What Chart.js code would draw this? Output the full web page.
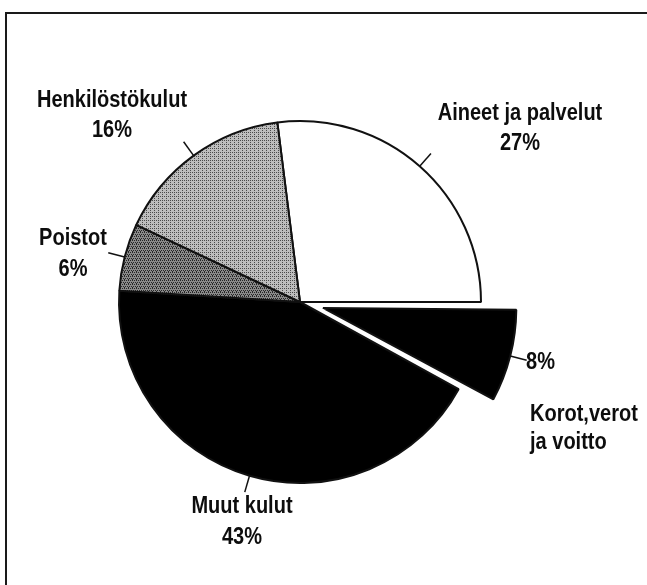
<!DOCTYPE html>
<html>
<head>
<meta charset="utf-8">
<script src="https://cdn.jsdelivr.net/npm/chart.js@4/dist/chart.umd.min.js"></script>
<style>
  html, body { margin: 0; padding: 0; background: #fff; }
  canvas { display: block; }
</style>
</head>
<body>
<canvas id="c" width="647" height="585"></canvas>
<script>
// ---- data ----
const categories = ["Aineet ja palvelut", "Korot,verot ja voitto", "Muut kulut", "Poistot", "Henkilöstökulut"];
const shares = [27, 8, 43, 6, 16];
const labelLines = [
  ["Aineet ja palvelut", "27%"],
  ["8%"],
  ["Muut kulut", "43%"],
  ["Poistot", "6%"],
  ["Henkilöstökulut", "16%"]
];
const extraLabel = ["Korot,verot", "ja voitto"];

// ---- styles ----
function makePattern(base, dot, dots) {
  const p = document.createElement('canvas');
  p.width = 4; p.height = 4;
  const g = p.getContext('2d');
  g.fillStyle = base; g.fillRect(0, 0, 4, 4);
  g.fillStyle = dot;
  dots.forEach(d => g.fillRect(d[0], d[1], 1, 1));
  return g.createPattern(p, 'repeat');
}
const lightPattern = makePattern('#bdbdbd', '#4a4a4a', [[0,0],[2,2],[2,0]]);
const darkPattern = makePattern('#8a8a8a', '#262626', [[0,0],[2,0],[1,2],[3,2],[0,3]]);
const fills = ['#ffffff', '#000000', '#000000', darkPattern, lightPattern];
const offsets = [0, 95, 0, 0, 0];

// text layout (center x / left x, baselines)
const textLayout = [
  { x: 520, align: 'center', ys: [120, 150] },
  { x: 526, align: 'left', ys: [369] },
  { x: 242, align: 'center', ys: [513, 544] },
  { x: 73, align: 'center', ys: [245, 276] },
  { x: 112, align: 'center', ys: [107, 137] }
];
const extraLayout = { x: 530, ys: [421, 449] };
const textSqueeze = 0.87;

const total = shares.reduce((a, b) => a + b, 0);
const rotation = 90 - shares[0] / total * 360;

function drawText(ctx, t, x, y) {
  ctx.save();
  ctx.translate(x, y);
  ctx.scale(textSqueeze, 1);
  ctx.fillText(t, 0, 0);
  ctx.restore();
}

const decor = {
  id: 'decor',
  beforeDraw(chart) {
    const ctx = chart.ctx;
    ctx.save();
    ctx.fillStyle = '#fff';
    ctx.fillRect(0, 0, chart.width, chart.height);
    ctx.strokeStyle = '#1a1a1a';
    ctx.lineWidth = 2;
    ctx.strokeRect(6, 13, 800, 800);
    ctx.restore();
  },
  afterDatasetsDraw(chart) {
    const ctx = chart.ctx;
    const meta = chart.getDatasetMeta(0);
    ctx.save();
    ctx.strokeStyle = '#111';
    ctx.lineWidth = 1.5;
    meta.data.forEach((arc, i) => {
      const p = arc.getProps(['x', 'y', 'startAngle', 'endAngle', 'outerRadius', 'circumference']);
      const mid = (p.startAngle + p.endAngle) / 2;
      const off = (arc.options.offset || 0) / 4;
      const fix = 1 - Math.sin(Math.min(Math.PI, p.circumference || 0));
      const shift = off + off * fix;
      const cx = p.x + Math.cos(mid) * shift;
      const cy = p.y + Math.sin(mid) * shift;
      const r0 = p.outerRadius, r1 = p.outerRadius + 17;
      ctx.beginPath();
      ctx.moveTo(cx + Math.cos(mid) * r0, cy + Math.sin(mid) * r0);
      ctx.lineTo(cx + Math.cos(mid) * r1, cy + Math.sin(mid) * r1);
      ctx.stroke();
    });
    ctx.fillStyle = '#0d0d0d';
    ctx.font = 'bold 23px "Liberation Sans", Arial, sans-serif';
    ctx.textBaseline = 'alphabetic';
    labelLines.forEach((lines, i) => {
      const L = textLayout[i];
      ctx.textAlign = L.align;
      lines.forEach((t, k) => drawText(ctx, t, L.x, L.ys[k]));
    });
    ctx.textAlign = 'left';
    extraLabel.forEach((t, k) => drawText(ctx, t, extraLayout.x, extraLayout.ys[k]));
    ctx.restore();
  }
};

new Chart(document.getElementById('c'), {
  type: 'pie',
  data: {
    labels: categories,
    datasets: [{
      data: shares,
      backgroundColor: fills,
      borderColor: '#111',
      borderWidth: 2,
      offset: offsets,
      radius: 181
    }]
  },
  options: {
    responsive: false,
    animation: false,
    rotation: rotation,
    layout: { padding: { left: 0, right: 47, top: 19, bottom: 0 } },
    plugins: {
      legend: { display: false },
      tooltip: { enabled: false },
      title: { display: false }
    }
  },
  plugins: [decor]
});
</script>
</body>
</html>
